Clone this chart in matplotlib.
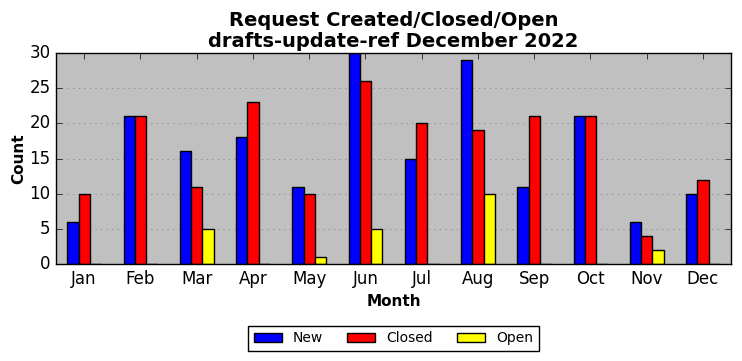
import matplotlib
matplotlib.use('Agg')
from matplotlib import pyplot as plt
import numpy as np

plt.style.use('classic')

months = ['Jan', 'Feb', 'Mar', 'Apr', 'May', 'Jun',
          'Jul', 'Aug', 'Sep', 'Oct', 'Nov', 'Dec']
new = [6, 21, 16, 18, 11, 30, 15, 29, 11, 21, 6, 10]
closed = [10, 21, 11, 23, 10, 26, 20, 19, 21, 21, 4, 12]
opened = [0, 0, 5, 0, 1, 5, 0, 10, 0, 0, 2, 0]

fig = plt.figure(figsize=(7.42, 3.61), dpi=100, facecolor='white')
ax = fig.add_axes([56 / 742, 1 - 264 / 361, 675 / 742, 211 / 361])
ax.set_facecolor('#c0c0c0')

x = np.arange(len(months))
w = 0.2
ax.bar(x - w, new, w, color='blue', edgecolor='black', label='New', align='center')
ax.bar(x, closed, w, color='red', edgecolor='black', label='Closed', align='center')
ax.bar(x + w, opened, w, color='yellow', edgecolor='black', label='Open', align='center')

ax.set_xlim(-0.5, 11.5)
ax.set_ylim(0, 30)
ax.set_xticks(x)
ax.set_xticklabels(months, fontsize=12)
ax.tick_params(axis='y', labelsize=12)
ax.yaxis.grid(True, linestyle=':', color='gray')
ax.set_axisbelow(True)

ax.set_title('Request Created/Closed/Open\ndrafts-update-ref December 2022',
             fontsize=14, fontweight='bold', linespacing=1.15, pad=4.5)
ax.set_xlabel('Month', fontsize=11, fontweight='bold')
ax.set_ylabel('Count', fontsize=11, fontweight='bold', labelpad=2)

ax.legend(loc='upper center', bbox_to_anchor=(0.5, -0.26), ncol=3,
          fontsize=10, fancybox=False, frameon=True, columnspacing=1.75)

fig.savefig('out.png', dpi=100, facecolor='white')
